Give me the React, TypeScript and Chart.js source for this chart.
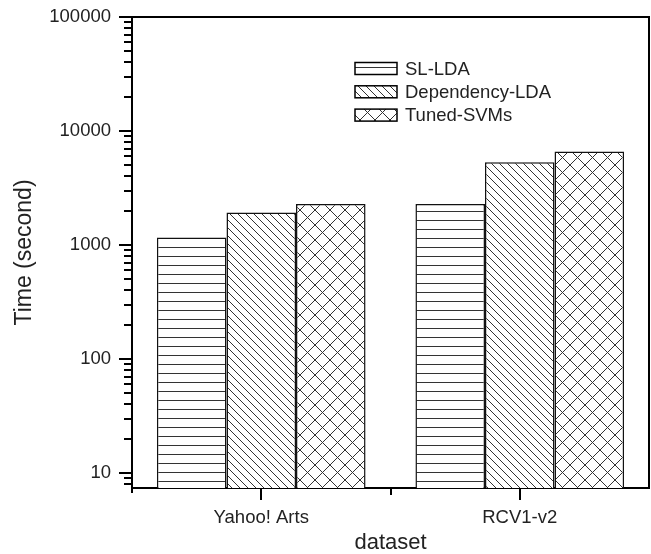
import React, { useEffect, useRef } from 'react';
import { Chart, registerables } from 'chart.js';
Chart.register(...registerables);

const categories = ['Yahoo! Arts', 'RCV1-v2'];
const seriesNames = ['SL-LDA', 'Dependency-LDA', 'Tuned-SVMs'];
const slLda = [1166, 2290];
const depLda = [1930, 5310];
const tunedSvm = [2290, 6620];
const yMin = 7.4;
const yMax = 100000;
const yTickLabels = [10, 100, 1000, 10000, 100000];
const xTitle = 'dataset';
const yTitle = 'Time (second)';

const FONT = "'Liberation Sans', Arial, Helvetica, sans-serif";

function makePattern(kind: string): CanvasPattern {
  const c = document.createElement('canvas');
  const size = kind === 'h' ? 9 : kind === 'd' ? 8 : 15;
  c.width = size;
  c.height = size;
  const ctx = c.getContext('2d')!;
  ctx.fillStyle = '#fff';
  ctx.fillRect(0, 0, size, size);
  ctx.strokeStyle = '#333';
  ctx.lineWidth = 1;
  ctx.beginPath();
  if (kind === 'h') {
    ctx.moveTo(0, 4.5);
    ctx.lineTo(size, 4.5);
  } else if (kind === 'd') {
    for (const o of [-size, 0, size]) {
      ctx.moveTo(o, 0);
      ctx.lineTo(o + size, size);
    }
  } else {
    for (const o of [-size, 0, size]) {
      ctx.moveTo(o, 0);
      ctx.lineTo(o + size, size);
      ctx.moveTo(o + size, 0);
      ctx.lineTo(o, size);
    }
  }
  ctx.stroke();
  return ctx.createPattern(c, 'repeat')!;
}

export default function App() {
  const ref = useRef<HTMLCanvasElement>(null);
  useEffect(() => {
    if (!ref.current) return;
    const patterns = [makePattern('h'), makePattern('d'), makePattern('x')];
    const series = [slLda, depLda, tunedSvm];

    const decorPlugin = {
      id: 'decor',
      afterDraw(chart: any) {
        const { ctx, chartArea: a, scales } = chart;
        ctx.save();
        ctx.strokeStyle = '#000';
        ctx.lineWidth = 2;
        // frame top & right
        ctx.beginPath();
        ctx.moveTo(a.left - 1, a.top);
        ctx.lineTo(a.right, a.top);
        ctx.lineTo(a.right, a.bottom + 1);
        ctx.stroke();
        // y axis extension below
        ctx.beginPath();
        ctx.moveTo(a.left, a.bottom);
        ctx.lineTo(a.left, a.bottom + 5);
        ctx.stroke();
        // y ticks
        const y = scales.y;
        y.ticks.forEach((t: any, i: number) => {
          const py = Math.round(y.getPixelForTick(i));
          const major = yTickLabels.includes(t.value);
          const len = major ? 13 : 8;
          ctx.beginPath();
          ctx.moveTo(a.left - len, py);
          ctx.lineTo(a.left, py);
          ctx.stroke();
        });
        // x ticks
        const x = scales.x;
        const px: number[] = x.ticks.map((_: any, i: number) => x.getPixelForTick(i));
        px.forEach((p) => {
          ctx.beginPath();
          ctx.moveTo(Math.round(p), a.bottom);
          ctx.lineTo(Math.round(p), a.bottom + 12);
          ctx.stroke();
        });
        for (let i = 0; i < px.length - 1; i++) {
          const m = Math.round((px[i] + px[i + 1]) / 2);
          ctx.beginPath();
          ctx.moveTo(m, a.bottom);
          ctx.lineTo(m, a.bottom + 7);
          ctx.stroke();
        }
        // legend
        const bx = a.left + 223;
        const bw = 42;
        const bh = 12;
        ctx.font = `18.5px ${FONT}`;
        ctx.textBaseline = 'middle';
        ctx.textAlign = 'left';
        chart.data.datasets.forEach((ds: any, i: number) => {
          const cy = a.top + 51.5 + i * 23.3;
          ctx.fillStyle = ds.backgroundColor;
          ctx.fillRect(bx, cy - bh / 2, bw, bh);
          ctx.lineWidth = 1.5;
          ctx.strokeStyle = '#000';
          ctx.strokeRect(bx, cy - bh / 2, bw, bh);
          ctx.fillStyle = '#222';
          ctx.fillText(ds.label, bx + 50, cy + 1);
        });
        ctx.restore();
      },
    };

    const chart = new Chart(ref.current, {
      type: 'bar',
      data: {
        labels: categories,
        datasets: seriesNames.map((name, i) => ({
          label: name,
          data: series[i],
          backgroundColor: patterns[i] as any,
          borderColor: '#111',
          borderWidth: 1.5,
          categoryPercentage: 0.807,
          barPercentage: 1,
        })),
      },
      options: {
        responsive: false,
        animation: false,
        devicePixelRatio: 1,
        layout: { padding: { top: 17, right: 2, left: 0, bottom: 0 } },
        plugins: { legend: { display: false }, tooltip: { enabled: false } },
        scales: {
          x: {
            type: 'category',
            grid: { display: true, drawOnChartArea: false, drawTicks: false },
            border: { display: true, color: '#000', width: 2 },
            ticks: { padding: 19, font: { family: FONT, size: 18.5 }, color: '#222' },
            title: {
              display: true,
              text: xTitle,
              font: { family: FONT, size: 22, lineHeight: 1 },
              color: '#222',
              padding: { top: 0, bottom: 0 },
            },
            afterFit: (s: any) => {
              s.height = 66;
              s.paddingLeft = 0;
              s.paddingRight = 0;
            },
          },
          y: {
            type: 'logarithmic',
            min: yMin,
            max: yMax,
            grid: { display: true, drawOnChartArea: false, drawTicks: false },
            border: { display: true, color: '#000', width: 2 },
            ticks: {
              autoSkip: false,
              padding: 21,
              font: { family: FONT, size: 18.5 },
              color: '#222',
              callback: (v: any) => (yTickLabels.includes(Number(v)) ? String(v) : ''),
            },
            afterBuildTicks: (s: any) => {
              const vals: { value: number }[] = [];
              for (let e = 0; e < 5; e++) {
                for (let m = 1; m <= 9; m++) {
                  const v = m * Math.pow(10, e);
                  if (v >= yMin && v <= yMax) vals.push({ value: v });
                }
              }
              vals.push({ value: yMax });
              s.ticks = vals;
            },
            title: {
              display: true,
              text: yTitle,
              font: { family: FONT, size: 23, lineHeight: 1 },
              color: '#222',
              padding: { top: 13.5, bottom: 0 },
            },
            afterFit: (s: any) => {
              s.width = 132;
              s.paddingTop = 0;
              s.paddingBottom = 0;
            },
          },
        },
      },
      plugins: [decorPlugin],
    } as any);
    return () => chart.destroy();
  }, []);
  return (
    <div style={{ position: 'absolute', left: 0, top: 0, width: 651, height: 554, background: '#fff' }}>
      <canvas ref={ref} width={651} height={554} style={{ display: 'block' }} />
    </div>
  );
}
